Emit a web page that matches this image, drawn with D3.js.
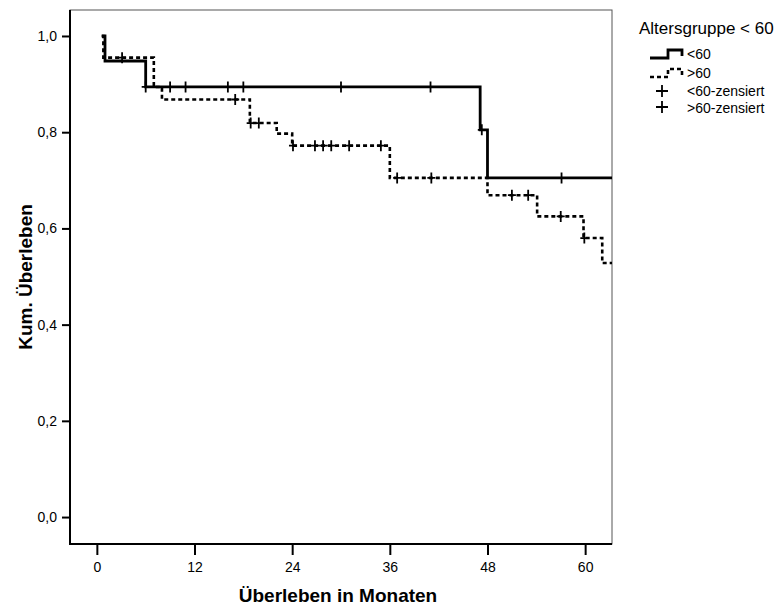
<!DOCTYPE html>
<html>
<head>
<meta charset="utf-8">
<script src="https://cdn.jsdelivr.net/npm/d3@7"></script>
<style>
  body { margin: 0; background: #fff; }
  text { font-family: "Liberation Sans", Arial, sans-serif; fill: #000; }
</style>
</head>
<body>
<svg id="chart" width="781" height="609"></svg>
<script>
// Kaplan-Meier curves, values

const monthTicks = [0, 12, 24, 36, 48, 60];
const survTicks = [0, 0.2, 0.4, 0.6, 0.8, 1.0];

// group < 60: step times and survival after each step
const under60Times = [0.6, 1.0, 6.0, 47.1, 48.0];
const under60Surv = [1.0, 0.948, 0.894, 0.805, 0.705];
const under60Censored = [6.0, 9.0, 10.9, 16.1, 18.0, 30.0, 41.0, 47.3, 57.1];

// group > 60
const over60Times = [0.6, 0.8, 7.0, 8.0, 18.8, 22.1, 24.0, 36.0, 48.0, 54.1, 59.8, 62.1];
const over60Surv = [1.0, 0.955, 0.894, 0.868, 0.819, 0.797, 0.772, 0.705, 0.669, 0.625, 0.580, 0.528];
const over60Censored = [3.1, 17.0, 18.9, 19.9, 24.1, 26.8, 27.8, 28.8, 31.0, 34.9, 36.9, 41.1, 51.0, 53.0, 57.0, 59.9];

const endTime = 64;

const legendTitle = "Altersgruppe < 60";
const legendLabels = ["<60", ">60", "<60-zensiert", ">60-zensiert"];

const pLeft = 70, pRight = 612, pTop = 10, pBottom = 544;

const svg = d3.select("#chart");

const x = d3.scaleLinear().domain([-3.3, 63.3]).range([pLeft, pRight]);
const y = d3.scaleLinear().domain([-0.056, 1.054]).range([pBottom, pTop]);

const commaFmt = d3.formatLocale({decimal: ",", thousands: ".", grouping: [3], currency: ["", "€"]}).format(".1f");

// frame
svg.append("rect")
    .attr("x", pLeft).attr("y", pTop)
    .attr("width", pRight - pLeft).attr("height", pBottom - pTop)
    .attr("fill", "none").attr("stroke", "#555").attr("stroke-width", 1);

svg.append("clipPath").attr("id", "plotclip")
  .append("rect")
    .attr("x", pLeft).attr("y", pTop)
    .attr("width", pRight - pLeft).attr("height", pBottom - pTop);

// axes
const yAxis = svg.append("g")
    .attr("transform", `translate(${pLeft},0)`)
    .call(d3.axisLeft(y).tickValues(survTicks).tickSize(8).tickPadding(5).tickFormat(commaFmt));
const xAxis = svg.append("g")
    .attr("transform", `translate(0,${pBottom})`)
    .call(d3.axisBottom(x).tickValues(monthTicks).tickSize(11).tickPadding(7));

[yAxis, xAxis].forEach(function (a) {
    a.select(".domain").remove();
    a.selectAll(".tick line").attr("stroke", "#000").attr("stroke-width", 2);
    a.selectAll(".tick text").style("font-size", "14px").attr("fill", "#000");
});

svg.append("line")
    .attr("x1", pLeft).attr("x2", pLeft).attr("y1", pTop).attr("y2", pBottom + 1)
    .attr("stroke", "#000").attr("stroke-width", 2);
svg.append("line")
    .attr("x1", pLeft - 1).attr("x2", pRight).attr("y1", pBottom).attr("y2", pBottom)
    .attr("stroke", "#000").attr("stroke-width", 2);

// axis titles
svg.append("text")
    .attr("x", (pLeft + pRight) / 2 - 3).attr("y", 602)
    .attr("text-anchor", "middle")
    .style("font-size", "19px").style("font-weight", "bold")
    .text("Überleben in Monaten");

svg.append("text")
    .attr("transform", `translate(32,${(pTop + pBottom) / 2}) rotate(-90)`)
    .attr("text-anchor", "middle")
    .style("font-size", "19px").style("font-weight", "bold")
    .text("Kum. Überleben");

// curves
function stepPoints(times, surv) {
    let pts = times.map((t, i) => [t, surv[i]]);
    pts.push([endTime, surv[surv.length - 1]]);
    return pts;
}

function survAt(times, surv, t) {
    let v = surv[0];
    times.forEach(function (tt, i) { if (tt <= t) v = surv[i]; });
    return v;
}

const line = d3.line()
    .x(d => x(d[0]))
    .y(d => y(d[1]))
    .curve(d3.curveStepAfter);

const plot = svg.append("g").attr("clip-path", "url(#plotclip)");

plot.append("path")
    .datum(stepPoints(over60Times, over60Surv))
    .attr("d", line)
    .attr("fill", "none").attr("stroke", "#000")
    .attr("stroke-width", 2.6).attr("stroke-dasharray", "4,3");

plot.append("path")
    .datum(stepPoints(under60Times, under60Surv))
    .attr("d", line)
    .attr("fill", "none").attr("stroke", "#000")
    .attr("stroke-width", 2.8);

function plotCensored(g, times, surv, censored) {
    let marks = g.selectAll(null)
        .data(censored)
        .enter().append("path")
        .attr("d", function (t) {
            let cx = x(t), cy = y(survAt(times, surv, t));
            return `M${cx - 4},${cy}H${cx + 4}M${cx},${cy - 5.5}V${cy + 5.5}`;
        })
        .attr("stroke", "#000").attr("stroke-width", 1.8).attr("fill", "none");
    return marks;
}

plotCensored(plot, under60Times, under60Surv, under60Censored);
plotCensored(plot, over60Times, over60Surv, over60Censored);

// legend
const lg = svg.append("g");
lg.append("text").attr("x", 639).attr("y", 34)
    .style("font-size", "17px").text(legendTitle);

lg.append("path")
    .attr("d", "M650,58H668V50H682V56")
    .attr("fill", "none").attr("stroke", "#000").attr("stroke-width", 2.8);
lg.append("path")
    .attr("d", "M650,77H668V69H682V75")
    .attr("fill", "none").attr("stroke", "#000").attr("stroke-width", 2.6)
    .attr("stroke-dasharray", "4,3");
[91, 107].forEach(function (cy) {
    lg.append("path")
        .attr("d", `M656,${cy}H668M662,${cy - 6}V${cy + 6}`)
        .attr("stroke", "#000").attr("stroke-width", 1.8);
});

const legendBaselines = [59, 78, 96, 113];
lg.selectAll(".item")
    .data(legendLabels)
    .enter().append("text")
    .attr("class", "item")
    .attr("x", 687)
    .attr("y", (d, i) => legendBaselines[i])
    .style("font-size", "14px")
    .text(d => d);
</script>
</body>
</html>
